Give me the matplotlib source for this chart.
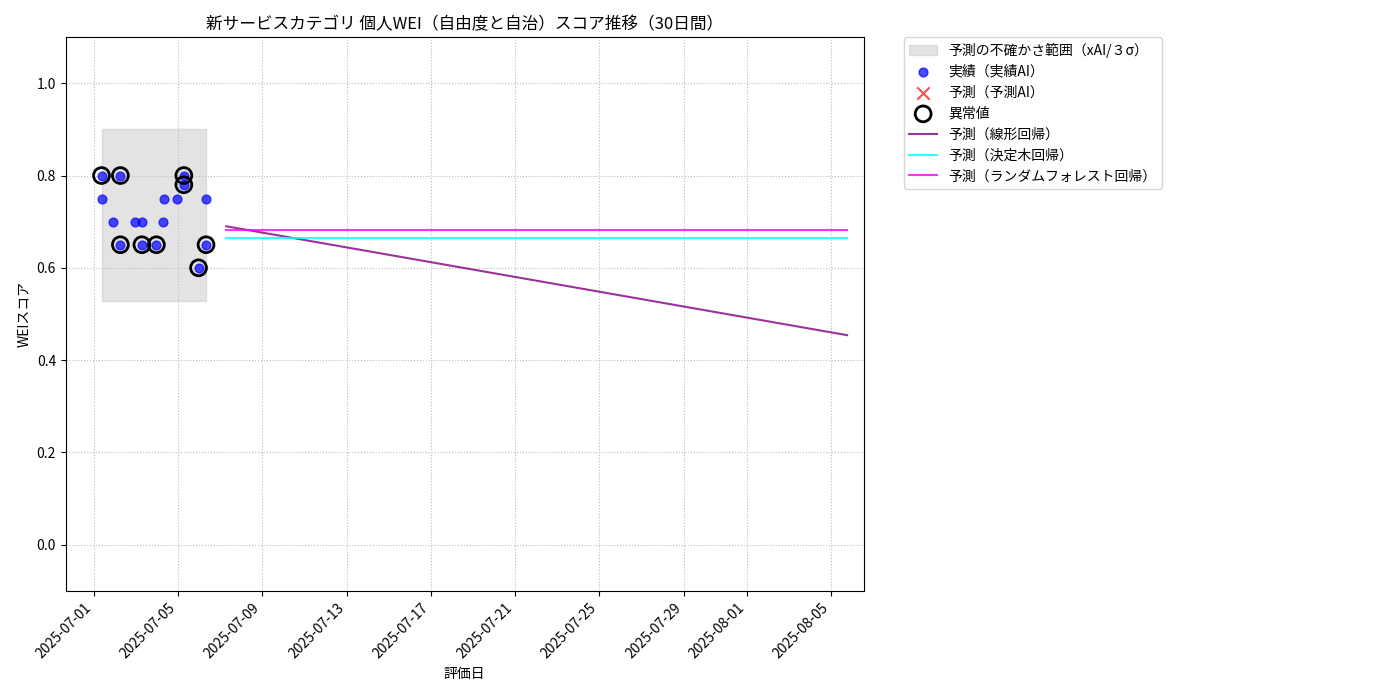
import matplotlib
matplotlib.use("Agg")
import matplotlib.pyplot as plt
import matplotlib.dates as mdates
import pandas as pd
import numpy as np

plt.rcParams['font.family'] = ['Noto Sans CJK JP', 'DejaVu Sans']

actual_dates = pd.to_datetime([
    "2025-07-01 09:00", "2025-07-01 22:30", "2025-07-02 06:30", "2025-07-02 23:15",
    "2025-07-03 07:00", "2025-07-03 23:30", "2025-07-04 06:30", "2025-07-04 07:40",
    "2025-07-04 23:15", "2025-07-05 06:45", "2025-07-05 23:30", "2025-07-06 08:00"])
actual_vals = [0.75, 0.70, 0.65, 0.70, 0.70, 0.65, 0.70, 0.75, 0.75, 0.78, 0.60, 0.75]
extra_dates = pd.to_datetime(["2025-07-01 09:00", "2025-07-02 06:30", "2025-07-03 07:00",
                              "2025-07-05 06:45", "2025-07-06 08:00"])
extra_vals = [0.80, 0.80, 0.65, 0.80, 0.65]
anom_dates = pd.to_datetime([
    "2025-07-01 09:00", "2025-07-02 06:30", "2025-07-05 06:45", "2025-07-05 06:45",
    "2025-07-02 06:30", "2025-07-03 07:00", "2025-07-03 23:30", "2025-07-06 08:00",
    "2025-07-05 23:30"])
anom_vals = [0.80, 0.80, 0.80, 0.78, 0.65, 0.65, 0.65, 0.65, 0.60]
band_low, band_high = 0.528, 0.90
pred_start, pred_end = "2025-07-07 07:00", "2025-08-05 18:00"
linear_start, linear_end = 0.690, 0.454
tree_val = 0.665
rf_val = 0.683

fig = plt.figure(figsize=(14, 7), dpi=100)
ax = fig.add_axes([0.047, 0.156, 0.570, 0.791])

ax.fill_between([actual_dates.min(), actual_dates.max()], band_low, band_high,
                color='#bbbbbb', alpha=0.4, label='予測の不確かさ範囲（xAI/３σ）', zorder=1)
all_d = actual_dates.append(extra_dates)
all_v = actual_vals + extra_vals
ax.scatter(all_d, all_v, color='blue', alpha=0.7, s=40, label='実績（実績AI）', zorder=3)
ax.scatter([], [], color='red', marker='x', alpha=0.7, s=80, label='予測（予測AI）')
ax.scatter(anom_dates, anom_vals, facecolors='none', edgecolors='black', s=130,
           linewidths=2, label='異常値', zorder=4)

pdates = pd.date_range(pred_start, pred_end, periods=30)
ax.plot(pdates, np.linspace(linear_start, linear_end, len(pdates)), color='purple',
        alpha=0.8, label='予測（線形回帰）')
ax.plot(pdates, [tree_val] * len(pdates), color='cyan', alpha=0.8, label='予測（決定木回帰）')
ax.plot(pdates, [rf_val] * len(pdates), color='magenta', alpha=0.8, label='予測（ランダムフォレスト回帰）')

ax.set_ylim(-0.1, 1.1)
ax.set_xlim(pd.Timestamp("2025-06-29 16:20"), pd.Timestamp("2025-08-06 13:00"))
ax.xaxis.set_major_locator(mdates.DayLocator(bymonthday=[1, 5, 9, 13, 17, 21, 25, 29]))
ax.xaxis.set_major_formatter(mdates.DateFormatter('%Y-%m-%d'))
plt.setp(ax.get_xticklabels(), rotation=45, ha='right')
ax.grid(True, linestyle=':', color='#bbbbbb')
ax.set_title('新サービスカテゴリ 個人WEI（自由度と自治）スコア推移（30日間）', fontsize=12)
ax.set_xlabel('評価日')
ax.set_ylabel('WEIスコア')
ax.legend(loc='upper left', bbox_to_anchor=(1.05, 1.0), borderaxespad=0.)

fig.savefig('out.png')
